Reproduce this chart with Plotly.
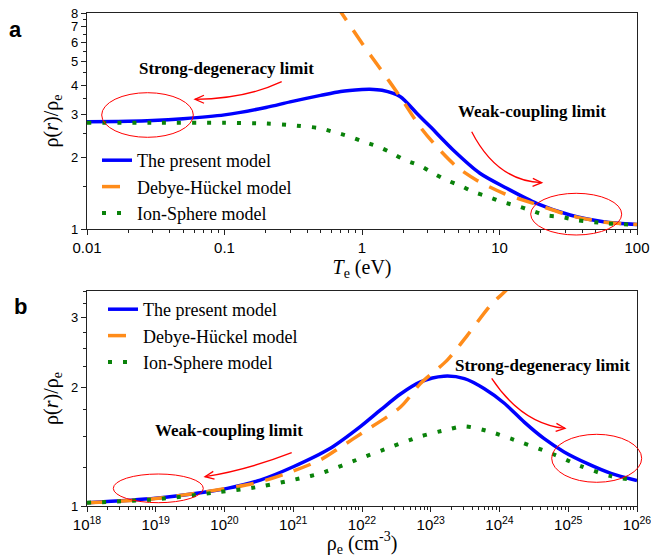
import numpy as np
import plotly.graph_objects as go

# ---------------- data: panel a (vs electron temperature, eV) ----------------
t_present = [0.01, 0.02, 0.03, 0.05, 0.1, 0.2, 0.3, 0.5, 0.7, 1.0, 1.14, 1.4, 1.89, 2.5, 3.13, 4.6, 7.2, 11.3, 18.6, 32.6, 57, 100]
a_present = [2.81, 2.82, 2.84, 2.89, 3.0, 3.22, 3.40, 3.62, 3.76, 3.83, 3.84, 3.80, 3.58, 3.05, 2.68, 2.14, 1.71, 1.48, 1.28, 1.144, 1.073, 1.045]

t_dh = [0.65, 0.71, 1.0, 1.35, 1.89, 2.64, 3.49, 4.89, 6.82, 10.7, 17.6, 32.6, 57, 100]
a_dh = [8.6, 8.0, 5.98, 4.70, 3.58, 2.68, 2.21, 1.82, 1.60, 1.41, 1.28, 1.14, 1.07, 1.045]

t_is = [0.01, 0.03, 0.1, 0.2, 0.3, 0.49, 0.615, 0.82, 1.02, 1.31, 1.64, 2.06, 2.64, 3.3, 4.13, 5.16, 6.46, 8.07, 10.35, 13.3, 16.6, 22, 27.5, 36.4, 60, 100]
a_is = [2.78, 2.78, 2.78, 2.76, 2.72, 2.64, 2.55, 2.43, 2.32, 2.21, 2.08, 1.94, 1.84, 1.71, 1.60, 1.52, 1.43, 1.37, 1.30, 1.25, 1.20, 1.14, 1.126, 1.09, 1.056, 1.04]

# ---------------- data: panel b (vs electron density, cm^-3), log10 of density ----------------
lg_present = [18, 19, 19.65, 20.04, 20.52, 21.0, 21.54, 21.98, 22.27, 22.56, 22.85, 23.19, 23.49, 23.78, 24.07, 24.36, 24.65, 24.94, 25.28, 25.62, 26.0]
b_present = [1.019, 1.046, 1.08, 1.108, 1.163, 1.257, 1.40, 1.59, 1.75, 1.92, 2.06, 2.13, 2.10, 1.98, 1.82, 1.63, 1.48, 1.37, 1.28, 1.21, 1.16]

lg_dh = [18, 19, 20.42, 20.91, 21.4, 21.69, 22.0, 22.56, 22.85, 23.24, 23.53, 23.87, 24.12, 24.3]
b_dh = [1.019, 1.045, 1.14, 1.21, 1.31, 1.41, 1.53, 1.78, 2.04, 2.34, 2.70, 3.22, 3.55, 3.9]

lg_is = [18, 19, 19.84, 20.52, 21.1, 21.4, 21.98, 22.42, 22.85, 23.24, 23.49, 23.87, 24.31, 24.75, 25.19, 25.62, 26.0]
b_is = [1.019, 1.04, 1.08, 1.12, 1.175, 1.21, 1.32, 1.41, 1.50, 1.56, 1.59, 1.54, 1.45, 1.36, 1.26, 1.19, 1.16]

names = ["The present model", "Debye-Hückel model", "Ion-Sphere model"]

# tick labels
xa_ticks = [0.01, 0.1, 1, 10, 100]
xa_text = ["0.01", "0.1", "1", "10", "100"]
ya_ticks = [1, 2, 3, 4, 5, 6, 7, 8]
yb_ticks = [1, 2, 3]
xb_exp = list(range(18, 27))

# ---------------- styles ----------------
BLUE = "#0000ff"
ORANGE = "#ff8c1a"
GREEN = "#0a820a"
RED = "#ff0000"
SERIF = "Liberation Serif"
SANS = "Liberation Sans"

W, H = 651, 557
ML, MR, MT, MB = 87, 14, 13, 51
PW, PH = W - ML - MR, H - MT - MB


def P(px, py):
    return (px - ML) / PW, (H - MB - py) / PH


fig = go.Figure()

styles = [dict(color=BLUE, width=3.5),
          dict(color=ORANGE, width=3.5, dash="18px,12px"),
          dict(color=GREEN, width=4, dash="4px,11px")]

for i, (xs, ys) in enumerate([(t_present, a_present), (t_dh, a_dh), (t_is, a_is)]):
    fig.add_trace(go.Scatter(x=xs, y=ys, mode="lines", name=names[i], line=dict(shape="spline", smoothing=0.8, **styles[i]),
                             xaxis="x", yaxis="y", legend="legend"))

for i, (xs, ys) in enumerate([(lg_present, b_present), (lg_dh, b_dh), (lg_is, b_is)]):
    fig.add_trace(go.Scatter(x=[10.0 ** v for v in xs], y=ys, mode="lines", name=names[i], line=dict(shape="spline", smoothing=0.8, **styles[i]),
                             xaxis="x2", yaxis="y2", legend="legend2"))

ax_common = dict(type="log", showline=True, linecolor="#222", linewidth=1.3, mirror=True, ticks="outside",
                 ticklen=5, tickwidth=1, tickcolor="#222", showgrid=False, zeroline=False,
                 ticklabeloverflow="allow",
                 tickfont=dict(family=SANS, size=15, color="black"))
yfont = dict(family=SANS, size=13, color="black")

minor_a_x = [m * 10.0 ** e for e in range(-2, 2) for m in range(2, 10)]
minor_b_x = [m * 10.0 ** e for e in range(18, 26) for m in range(2, 10)]
minor_a_y = [1.5, 2.5, 3.5, 4.5, 5.5, 6.5, 7.5]
minor_b_y = [1.25, 1.5, 1.75, 2.25, 2.5, 2.75, 3.25, 3.5]
minor_style = dict(ticks="outside", ticklen=3, tickwidth=1, tickcolor="#222", tickmode="array")

fig.update_layout(
    width=W, height=H, margin=dict(l=ML, r=MR, t=MT, b=MB, autoexpand=False),
    paper_bgcolor="white", plot_bgcolor="white",
    xaxis=dict(ax_common, domain=[0, 1], anchor="y", range=[-2, 2], tickmode="array", tickvals=xa_ticks, ticktext=xa_text,
               minor=dict(minor_style, tickvals=minor_a_x),
               title=dict(text="<i>T</i><sub>e</sub> (eV)", font=dict(family=SERIF, size=20, color="black"), standoff=0)),
    yaxis=dict(ax_common, domain=[(H - MB - 229) / PH, 1], anchor="x", range=[0, np.log10(8)], tickmode="array", tickvals=ya_ticks,
               ticktext=[str(v) for v in ya_ticks], minor=dict(minor_style, tickvals=minor_a_y), tickfont=yfont,
               title=dict(text="ρ(<i>r</i>)/ρ<sub>e</sub>", font=dict(family=SERIF, size=20, color="black"), standoff=7)),
    xaxis2=dict(ax_common, domain=[0, 1], anchor="y2", range=[18, 26], tickmode="array", tickvals=[10.0 ** e for e in xb_exp],
                ticktext=["10<sup>%d</sup>" % e for e in xb_exp], minor=dict(minor_style, tickvals=minor_b_x),
                title=dict(text="ρ<sub>e</sub> (cm<sup>-3</sup>)", font=dict(family=SERIF, size=20, color="black"), standoff=0)),
    yaxis2=dict(ax_common, domain=[0, (H - MB - 291) / PH], anchor="x2", range=[0, np.log10(3.5)], tickmode="array", tickvals=yb_ticks,
                ticktext=[str(v) for v in yb_ticks], minor=dict(minor_style, tickvals=minor_b_y), tickfont=yfont,
                title=dict(text="ρ(<i>r</i>)/ρ<sub>e</sub>", font=dict(family=SERIF, size=20, color="black"), standoff=7)),
    legend=dict(x=P(97, 0)[0], y=P(0, 142)[1], xanchor="left", yanchor="top", bgcolor="rgba(0,0,0,0)",
                font=dict(family=SERIF, size=18, color="black"), tracegroupgap=0, itemwidth=30),
    legend2=dict(x=P(103, 0)[0], y=P(0, 291)[1], xanchor="left", yanchor="top", bgcolor="rgba(0,0,0,0)",
                 font=dict(family=SERIF, size=18, color="black"), tracegroupgap=0, itemwidth=30),
    showlegend=True,
)

# ---------------- decorations: panel letters, labels, ellipses, curved arrows ----------------
annots = []
for txt, px, py in [("a", 15, 30), ("b", 20, 306)]:
    x, y = P(px, py)
    annots.append(dict(text="<b>%s</b>" % txt, x=x, y=y, xref="paper", yref="paper", showarrow=False,
                       font=dict(family=SANS, size=22, color="black"), xanchor="center", yanchor="middle"))
for txt, px, py in [("Strong-degeneracy limit", 227, 68), ("Weak-coupling limit", 532, 112),
                    ("Weak-coupling limit", 229, 430), ("Strong-degeneracy limit", 542, 365)]:
    x, y = P(px, py)
    annots.append(dict(text="<b>%s</b>" % txt, x=x, y=y, xref="paper", yref="paper", showarrow=False,
                       font=dict(family=SERIF, size=17, color="black"), xanchor="center", yanchor="middle"))
fig.update_layout(annotations=annots)

shapes = []
for x0, x1, y0, y1 in [(101.7, 193.3, 92.7, 137.3), (530.7, 621.7, 193.3, 235),
                       (113.3, 203.3, 474, 502.7), (551.7, 641.7, 434.3, 482.3)]:
    a0, b0 = P(x0, y1)
    a1, b1 = P(x1, y0)
    shapes.append(dict(type="circle", xref="paper", yref="paper", x0=a0, x1=a1, y0=b0, y1=b1,
                       line=dict(color=RED, width=1)))

arrows = [((281.7, 81.7), (245, 99), (195, 99.3)),
          ((471.7, 131.7), (497, 181), (541.7, 182.7)),
          ((291.7, 452.7), (247, 470), (205, 476.7)),
          ((491.7, 378.3), (522, 424), (565, 428.3))]
for s, c, e in arrows:
    ps, pc, pe = P(*s), P(*c), P(*e)
    shapes.append(dict(type="path", xref="paper", yref="paper",
                       path="M %.5f,%.5f Q %.5f,%.5f %.5f,%.5f" % (ps[0], ps[1], pc[0], pc[1], pe[0], pe[1]),
                       line=dict(color=RED, width=1.3)))
    d = np.array(e) - np.array(c)
    d = d / np.linalg.norm(d)
    n = np.array([-d[1], d[0]])
    L, Wd = 9, 4
    h1 = np.array(e) - L * d + Wd * n
    h2 = np.array(e) - L * d - Wd * n
    q1, q2 = P(*h1), P(*h2)
    shapes.append(dict(type="path", xref="paper", yref="paper",
                       path="M %.5f,%.5f L %.5f,%.5f L %.5f,%.5f" % (q1[0], q1[1], pe[0], pe[1], q2[0], q2[1]),
                       line=dict(color=RED, width=1.3)))
fig.update_layout(shapes=shapes)

fig.write_html("out.html", config={"displayModeBar": False},
               post_script="document.body.style.margin='0px';document.body.style.padding='0px';")
